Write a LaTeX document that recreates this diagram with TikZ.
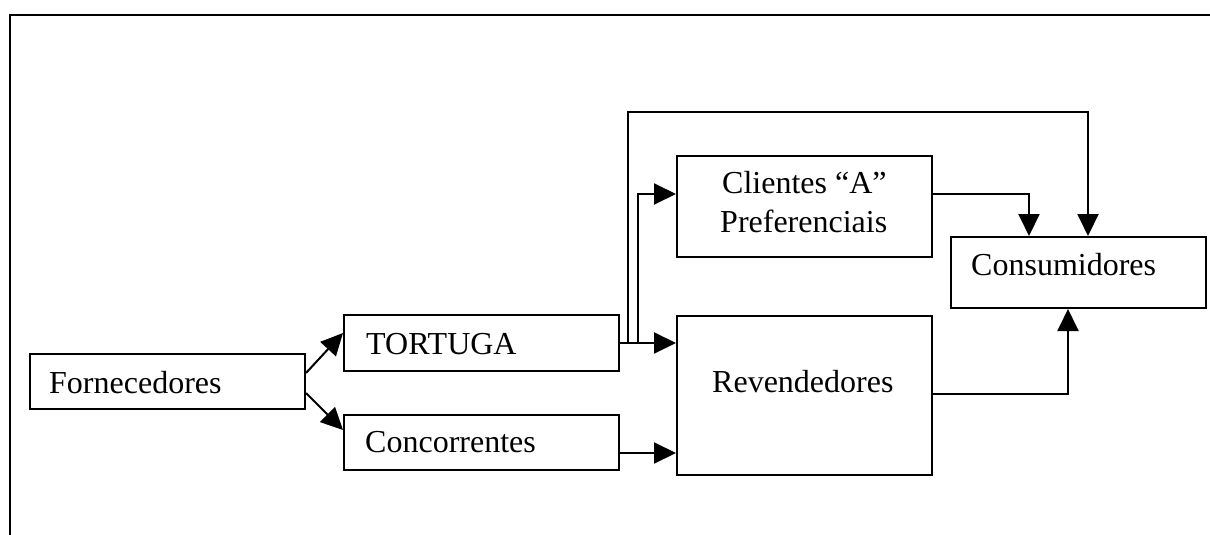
\documentclass[tikz,border=0pt]{standalone}
\usepackage{fontspec}
\setmainfont{Liberation Serif}
\usetikzlibrary{arrows.meta,calc}
\begin{document}
\begin{tikzpicture}[x=1pt,y=-1pt,
  box/.style={draw,line width=2pt,inner sep=0pt,anchor=north west},
  txt/.style={anchor=base west,inner sep=0pt,font=\fontsize{32}{36}\selectfont},
  arr/.style={line width=2pt,-{Triangle[length=22pt,width=21pt]}},
  frame/.style={line width=2.2pt}]
\useasboundingbox (0,0) rectangle (1210,535);
% frame
\coordinate (ftr) at (1210,15);
\coordinate (ftl) at (10,15);
\coordinate (fbl) at (10,535);
\draw[frame] (ftr) -- (ftl) -- (fbl);
% boxes
\node[box,minimum width=275pt,minimum height=55pt] (forn) at (29,353) {};
\node[box,minimum width=275pt,minimum height=56pt] (tort) at (343,314) {};
\node[box,minimum width=275pt,minimum height=55pt] (conc) at (343,414) {};
\node[box,minimum width=255pt,minimum height=101pt] (cli) at (676,155) {};
\node[box,minimum width=255pt,minimum height=159pt] (rev) at (676,315) {};
\node[box,minimum width=255pt,minimum height=71pt] (cons) at (950,236) {};
% texts
\node[txt] (fornt) at (49,393) {Fornecedores};
\node[txt] (tortt) at (366,354) {TORTUGA};
\node[txt] (conct) at (365,452) {Concorrentes};
\node[txt] (clit1) at (722,193) {Clientes “A”};
\node[txt] (clit2) at (720,232) {Preferenciais};
\node[txt] (revt) at (712,392) {Revendedores};
\node[txt] (const) at (971,275) {Consumidores};
% connectors
\draw[arr] ($(forn.north east)+(0,20)$) -- ($(tort.north west)+(0,19)$);
\draw[arr] ($(forn.north east)+(0,40)$) -- ($(conc.north west)+(0,16)$);
\coordinate (ts) at ($(tort.north east)+(0,29)$);
\draw[arr] (ts) -- (rev.west |- ts);
\coordinate (b1) at ($(ts)+(18,0)$);
\coordinate (b2) at ($(ts)+(8,0)$);
\draw[arr] (b1) -- (b1 |- 0,194) -- (cli.west |- 0,194);
\coordinate (tl) at (b2 |- 0,112);
\coordinate (tr) at (1088,112);
\draw[arr] (b2) -- (tl) -- (tr) -- (tr |- cons.north);
\coordinate (cr) at (1029,194);
\draw[arr] (cli.east |- cr) -- (cr) -- (cr |- cons.north);
\coordinate (cs) at ($(conc.north east)+(0,39)$);
\draw[arr] (cs) -- (rev.west |- cs);
\coordinate (rr) at (1068,394);
\draw[arr] (rev.east |- rr) -- (rr) -- (rr |- cons.south);
\end{tikzpicture}
\end{document}
